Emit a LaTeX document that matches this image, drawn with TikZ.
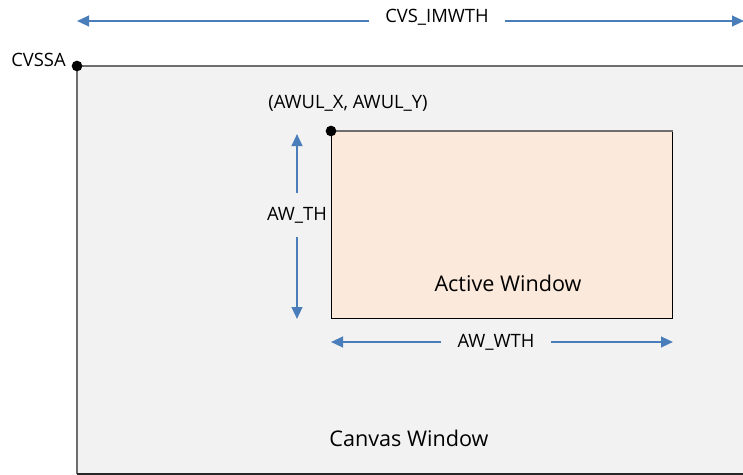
\documentclass[tikz,border=0pt]{standalone}
\usepackage{fontspec}
\setmainfont{Open Sans}
\usetikzlibrary{arrows.meta}
\definecolor{canvasbg}{HTML}{F2F2F2}
\definecolor{awfill}{HTML}{FBE9DB}
\definecolor{arrowblue}{HTML}{4A7EBB}
\definecolor{edgegray}{HTML}{6E6E6E}
\tikzset{
  dim/.style={draw=arrowblue, line width=1.6pt, -{Triangle[length=9pt,width=8pt]}},
  lbl/.style={font=\fontsize{13.8}{15}\selectfont, text=black, inner sep=0pt},
  big/.style={font=\fontsize{16.2}{18}\selectfont, text=black, inner sep=0pt},
  dot/.style={circle, fill=black, inner sep=0pt, minimum size=8pt}
}
\begin{document}
\begin{tikzpicture}[x=0.75pt, y=-0.75pt]
\useasboundingbox (0,0) rectangle (743,475);
\begin{scope}
\clip (0,0) rectangle (743,475);
% canvas window
\fill[canvasbg] (77,66) rectangle (760,474);
\draw[edgegray, line width=1.2pt] (760,66) -- (77,66) -- (77,474);
\draw[black!85, line width=1.4pt] (77,474) -- (760,474);
\end{scope}
% active window
\node[draw=black, fill=awfill, line width=0.9pt, minimum width=341*0.75pt, minimum height=187*0.75pt, inner sep=0pt, anchor=north west] (aw) at (331,131) {};
\draw[edgegray, line width=1pt] (aw.north west) -- (aw.north east);
\node[big] (awtxt) at (508,283) {Active Window};
\node[big] (cwtxt) at (409,438) {Canvas Window};
% dots
\node[dot] (cvssa) at (77,66) {};
\node[lbl, anchor=east] (cvssalbl) at (66,60) {CVSSA};
\node[dot] (awul) at (331,131) {};
\node[lbl] (awullbl) at (348,103) {(AWUL\_X, AWUL\_Y)};
% top dimension
\coordinate (tl) at (77,21);
\coordinate (tr) at (744,21);
\node[lbl, inner xsep=12pt] (cvsw) at (437,17) {CVS\_IMWTH};
\draw[dim] (cvsw.west |- tl) -- (tl);
\draw[dim] (cvsw.east |- tr) -- (tr);
% vertical dimension
\coordinate (vt) at (297,134);
\coordinate (vb) at (297,319);
\node[lbl, inner ysep=10pt] (awth) at (297,215) {AW\_TH};
\draw[dim] (awth.north -| vt) -- (vt);
\draw[dim] (awth.south -| vb) -- (vb);
% horizontal dimension
\coordinate (hl) at (331,342);
\coordinate (hr) at (673,342);
\node[lbl, inner xsep=12pt] (awwth) at (496,342) {AW\_WTH};
\draw[dim] (awwth.west |- hl) -- (hl);
\draw[dim] (awwth.east |- hr) -- (hr);
\end{tikzpicture}
\end{document}
